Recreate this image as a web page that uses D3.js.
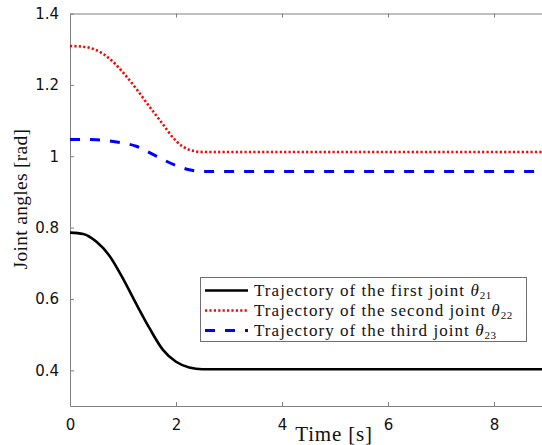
<!DOCTYPE html>
<html>
<head>
<meta charset="utf-8">
<script src="https://cdn.jsdelivr.net/npm/d3@7"></script>
<style>
  body { margin: 0; background: #fff; }
  .tick text { font-family: "DejaVu Sans", sans-serif; font-size: 15px; fill: #111; }
  .lbl { font-family: "Liberation Serif", "Times New Roman", serif; fill: #111; }
</style>
</head>
<body>
<div id="chart"></div>
<script>
// time samples [s]
var time = [0, 0.25, 0.5, 0.75, 1.0, 1.25, 1.5, 1.75, 2.0, 2.25, 2.5, 3, 4, 5, 6, 7, 8, 9, 10];

// joint angle readings [rad]
var theta21 = [0.786, 0.782, 0.760, 0.720, 0.657, 0.586, 0.518, 0.458, 0.424, 0.408, 0.403, 0.403, 0.403, 0.403, 0.403, 0.403, 0.403, 0.403, 0.403];
var theta22 = [1.309, 1.307, 1.297, 1.273, 1.235, 1.189, 1.139, 1.090, 1.043, 1.018, 1.012, 1.012, 1.012, 1.012, 1.012, 1.012, 1.012, 1.012, 1.012];
var theta23 = [1.047, 1.047, 1.046, 1.043, 1.037, 1.028, 1.010, 0.991, 0.974, 0.962, 0.957, 0.957, 0.957, 0.957, 0.957, 0.957, 0.957, 0.957, 0.957];

var xTicks = [0, 2, 4, 6, 8];
var xTickLabels = ["0", "2", "4", "6", "8"];
var yTicks = [0.4, 0.6, 0.8, 1, 1.2, 1.4];
var yTickLabels = ["0.4", "0.6", "0.8", "1", "1.2", "1.4"];

var legendNames = ["Trajectory of the first joint ", "Trajectory of the second joint ", "Trajectory of the third joint "];
var legendSubs = ["21", "22", "23"];

var width = 542, height = 445;

var svg = d3.select("#chart")
  .append("svg")
    .attr("width", width)
    .attr("height", height);

// plot box (right side runs off the picture)
var x = d3.scaleLinear()
  .domain([0, 10])
  .range([70, 600]);

var y = d3.scaleLinear()
  .domain([0.3, 1.4])
  .range([406, 13.5]);

var axisColor = "#808080";

// bottom axis
var gx = svg.append("g")
  .attr("transform", "translate(0," + y(0.3) + ")")
  .call(d3.axisBottom(x).tickValues(xTicks).tickSizeInner(-4).tickSizeOuter(0).tickPadding(13)
    .tickFormat(function(d, i) { return xTickLabels[i]; }));
gx.select(".domain").attr("stroke", axisColor);
gx.selectAll(".tick line").attr("stroke", axisColor);

// top axis (ticks only)
var gt = svg.append("g")
  .attr("transform", "translate(0," + y(1.4) + ")")
  .call(d3.axisTop(x).tickValues(xTicks).tickSizeInner(-4).tickSizeOuter(0).tickFormat(""));
gt.select(".domain").attr("stroke", axisColor);
gt.selectAll(".tick line").attr("stroke", axisColor);

// left axis
var gy = svg.append("g")
  .attr("transform", "translate(" + x(0) + ",0)")
  .call(d3.axisLeft(y).tickValues(yTicks).tickSizeInner(-4).tickSizeOuter(0).tickPadding(11)
    .tickFormat(function(d, i) { return yTickLabels[i]; }));
gy.select(".domain").attr("stroke", axisColor);
gy.selectAll(".tick line").attr("stroke", axisColor);

// series
var series = [
  { values: theta21, color: "#000000", width: 2.6, dash: null },
  { values: theta22, color: "#ff0000", width: 2.6, dash: "2.2,2.2" },
  { values: theta23, color: "#0000ff", width: 3, dash: "10,10" }
];

var line = d3.line()
  .x(function(d) { return x(d[0]); })
  .y(function(d) { return y(d[1]); })
  .curve(d3.curveMonotoneX);

series.forEach(function(s) {
  var pts = time.map(function(t, i) { return [t, s.values[i]]; });
  svg.append("path")
    .datum(pts)
    .attr("d", line)
    .attr("fill", "none")
    .attr("stroke", s.color)
    .attr("stroke-width", s.width)
    .attr("stroke-dasharray", s.dash);
});

// axis labels
svg.append("text")
  .attr("class", "lbl")
  .attr("x", 334)
  .attr("y", 441)
  .attr("text-anchor", "middle")
  .style("font-size", "21px")
  .style("letter-spacing", "0.8px")
  .text("Time [s]");

svg.append("text")
  .attr("class", "lbl")
  .attr("transform", "translate(27,199) rotate(-90)")
  .attr("text-anchor", "middle")
  .style("font-size", "19.5px")
  .style("letter-spacing", "0.3px")
  .text("Joint angles [rad]");

// legend
var legend = svg.append("g");
legend.append("rect")
  .attr("x", 200.5)
  .attr("y", 277.5)
  .attr("width", 326)
  .attr("height", 64)
  .attr("fill", "#fff")
  .attr("stroke", "#707070")
  .attr("stroke-width", 1);

series.forEach(function(s, i) {
  var ly = 290.5 + i * 20;
  legend.append("line")
    .attr("x1", 205).attr("x2", 248)
    .attr("y1", ly).attr("y2", ly)
    .attr("stroke", s.color)
    .attr("stroke-width", s.width)
    .attr("stroke-dasharray", s.dash);
  var t = legend.append("text")
    .attr("class", "lbl")
    .attr("x", 254)
    .attr("y", ly + 5)
    .style("font-size", "17px")
    .style("letter-spacing", "1.05px");
  t.append("tspan").text(legendNames[i]);
  t.append("tspan").style("font-style", "italic").text("θ");
  t.append("tspan").attr("dy", 3).style("font-size", "11px").style("letter-spacing", "0.5px").text(legendSubs[i]);
});
</script>
</body>
</html>
